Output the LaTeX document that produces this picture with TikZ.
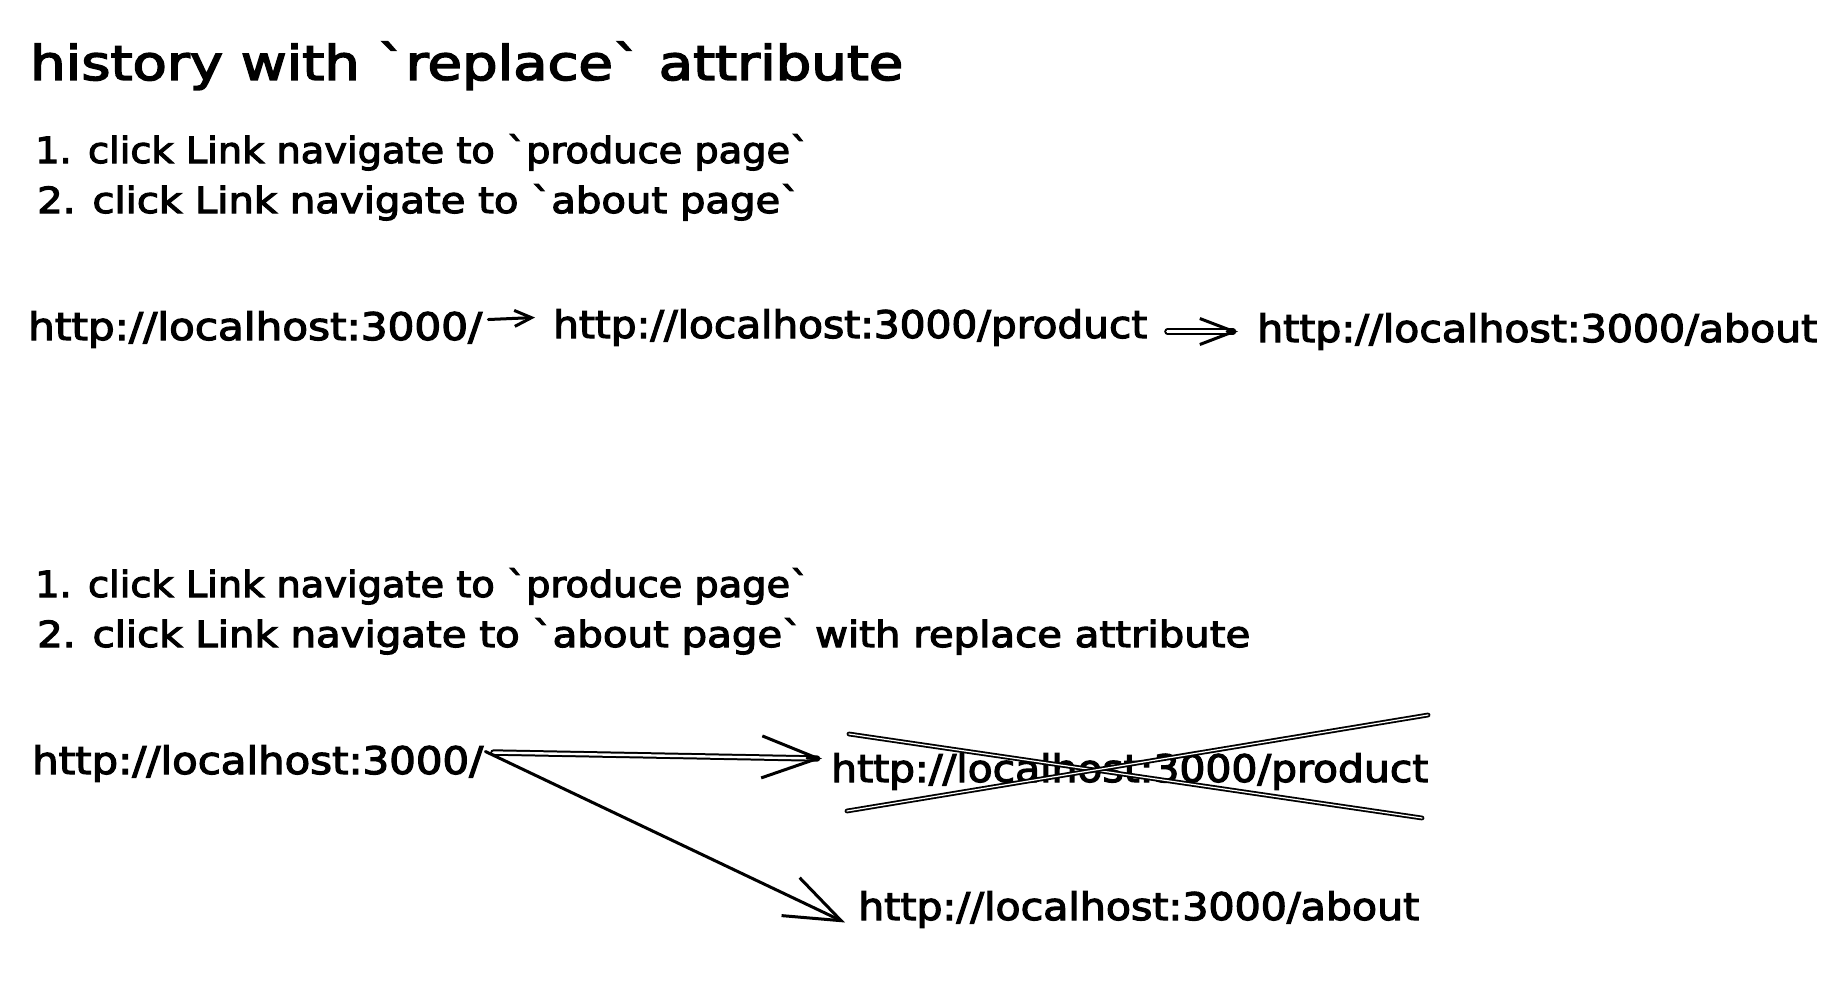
\documentclass[tikz,border=0pt]{standalone}
\usepackage{fontspec}
\setmainfont{DejaVu Sans}[BoldFont={DejaVu Sans}, BoldFeatures={FakeBold=3}]
\usetikzlibrary{arrows.meta}
\newcommand\fitw[2]{\resizebox{#1pt}{\height}{#2}}
\newcommand\bt{\textasciigrave}
\begin{document}
\begin{tikzpicture}[x=1pt,y=-1pt,
  txtbase/.style={inner sep=0pt, anchor=base west, text=black},
  ttl/.style={txtbase, font=\fontsize{48}{52}\selectfont\bfseries},
  body/.style={txtbase, font=\fontsize{36}{40}\selectfont\bfseries},
  url/.style={txtbase, font=\fontsize{38}{42}\selectfont\bfseries},
  stroke/.style={line width=3pt, line cap=round, line join=round, black},
  arrsmall/.style={stroke, -{Straight Barb[length=17pt,width=16pt]}},
  arrbig/.style={stroke, -{Straight Barb[length=56pt,width=42pt]}},
  arrmid/.style={stroke, -{Straight Barb[length=34pt,width=26pt]}},
  dbl/.style={line width=2pt, line cap=round, black, double=white, double distance=2.4pt},
  cross/.style={line width=1.8pt, line cap=round, black, double=white, double distance=1.2pt}]
\fill[white] (0,0) rectangle (1844,982);
\useasboundingbox (0,0) rectangle (1844,982);

% texts
\node[ttl] (title) at (30,80) {\fitw{873}{history with \bt replace\bt{} attribute}};
\node[body] (s1) at (35,163) {\fitw{774}{1. click Link navigate to \bt produce page\bt}};
\node[body] (s2) at (37,213) {\fitw{763}{2. click Link navigate to \bt about page\bt}};
\node[url] (u1) at (28,340) {\fitw{454}{http://localhost:3000/}};
\node[url] (u2) at (553,338) {\fitw{594}{http://localhost:3000/product}};
\node[url] (u3) at (1257,342) {\fitw{560}{http://localhost:3000/about}};
\node[body] (s3) at (35,597) {\fitw{774}{1. click Link navigate to \bt produce page\bt}};
\node[body] (s4) at (37,647) {\fitw{1213}{2. click Link navigate to \bt about page\bt{} with replace attribute}};
\node[url] (u4) at (32,774) {\fitw{451}{http://localhost:3000/}};
\node[url] (u5) at (831,782) {\fitw{597}{http://localhost:3000/product}};
\node[url] (u6) at (858,920) {\fitw{561}{http://localhost:3000/about}};

% row 1 connectors
\draw[arrsmall] ([xshift=6pt,yshift=10pt]u1.east) -- ([xshift=-18pt,yshift=10pt]u2.west);
\draw[dbl] ([xshift=20pt,yshift=-4pt]u2.east) -- ([xshift=-24pt,yshift=0pt]u3.west);
\draw[arrmid] ([xshift=-30pt,yshift=0pt]u3.west) -- ([xshift=-19pt,yshift=0pt]u3.west);

% bottom connectors
\draw[dbl] ([xshift=10pt,yshift=11pt]u4.east) -- ([xshift=-14pt,yshift=13pt]u5.west);
\draw[arrbig] ([xshift=-24pt,yshift=13.4pt]u5.west) -- ([xshift=-9pt,yshift=13pt]u5.west);
\draw[arrbig] ([xshift=2pt,yshift=12pt]u4.east) -- ([xshift=-13pt,yshift=-13pt]u6.west);

% strike-through cross
\draw[cross] (849,734) -- (1422,818);
\draw[cross] (847,811) -- (1428,715);
\end{tikzpicture}
\end{document}
